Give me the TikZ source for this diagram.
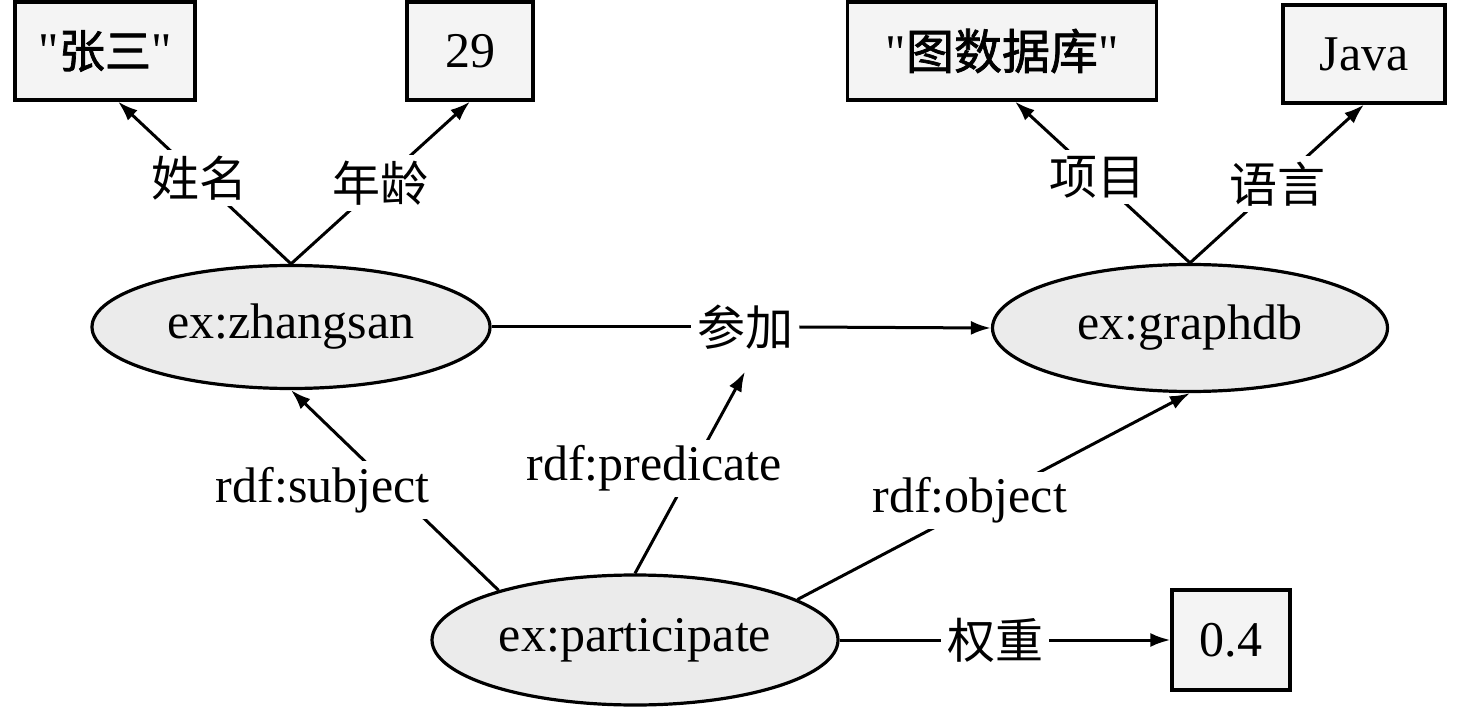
\documentclass[tikz,border=0pt]{standalone}
\usepackage{fontspec}
\setmainfont{Liberation Serif}
\newfontfamily\cjk{Noto Sans CJK SC}
\newfontfamily\cjkb[FakeBold=1.5]{Noto Sans CJK SC}
\usetikzlibrary{arrows.meta,shapes.geometric}
\begin{document}
\begin{tikzpicture}[x=0.5pt,y=-0.5pt,
  every node/.style={font=\fontsize{25}{30}\selectfont},
  valbox/.style={draw, line width=1.6pt, fill=gray!9, minimum height=49pt, inner sep=0pt},
  res/.style={draw, ellipse, line width=1.6pt, fill=gray!16, inner sep=0pt},
  conn/.style={line width=1.5pt},
  arr/.style={conn, -{Latex[length=10pt,width=7pt]}},
  lbl/.style={fill=white, inner sep=3pt},
  clbl/.style={lbl, font=\fontsize{24}{28}\cjk}
]
\useasboundingbox (0,0) rectangle (1460,716);
% resources
\node[res, minimum width=199pt, minimum height=61.5pt] (zs) at (291,327) {ex:zhangsan};
\node[res, minimum width=197.5pt, minimum height=63.5pt] (gd) at (1190,328) {ex:graphdb};
\node[res, minimum width=203pt, minimum height=65pt] (pt) at (635,640) {ex:participate};
% literal boxes
\node[valbox, minimum width=90pt] (b1) at (105,51) {\textquotedbl{\cjkb\fontsize{23}{28}\selectfont 张三}\textquotedbl};
\node[valbox, minimum width=63pt] (b2) at (470,51) {29};
\node[valbox, minimum width=154.5pt] (b3) at (1002,51) {\textquotedbl{\cjkb\fontsize{24}{28}\selectfont 图数据库}\textquotedbl};
\node[valbox, minimum width=81pt] (b4) at (1364,54) {Java};
\node[valbox, minimum width=59pt, minimum height=50pt] (b5) at (1231,640) {0.4};
% predicate label node
\node[clbl] (cj) at (745,327) {参加};
% edges
\draw[arr] (zs.north) -- node[clbl, pos=0.53] {姓名} ([xshift=6.5pt]b1.south);
\draw[arr] (zs.north) -- node[clbl, pos=0.5] {年龄} (b2.south);
\draw[arr] (gd.north) -- node[clbl, pos=0.53] {项目} ([xshift=6.5pt]b3.south);
\draw[arr] (gd.north) -- node[clbl, pos=0.5] {语言} (b4.south);
\draw[conn] (zs.east) -- (cj.west);
\draw[arr] (cj.east) -- (gd.west);
\draw[arr] (pt.160) -- node[lbl, pos=0.5, xshift=-36pt] {rdf:subject} (zs.south);
\draw[arr] (pt.90) -- node[lbl, pos=0.52, xshift=-19pt] {rdf:predicate} ([yshift=-8pt]cj.south);
\draw[arr] (pt.14) -- node[lbl, pos=0.48, xshift=-8pt] {rdf:object} (gd.south);
\draw[arr] (pt.east) -- node[clbl, pos=0.47] {权重} (b5.west);
\end{tikzpicture}
\end{document}
